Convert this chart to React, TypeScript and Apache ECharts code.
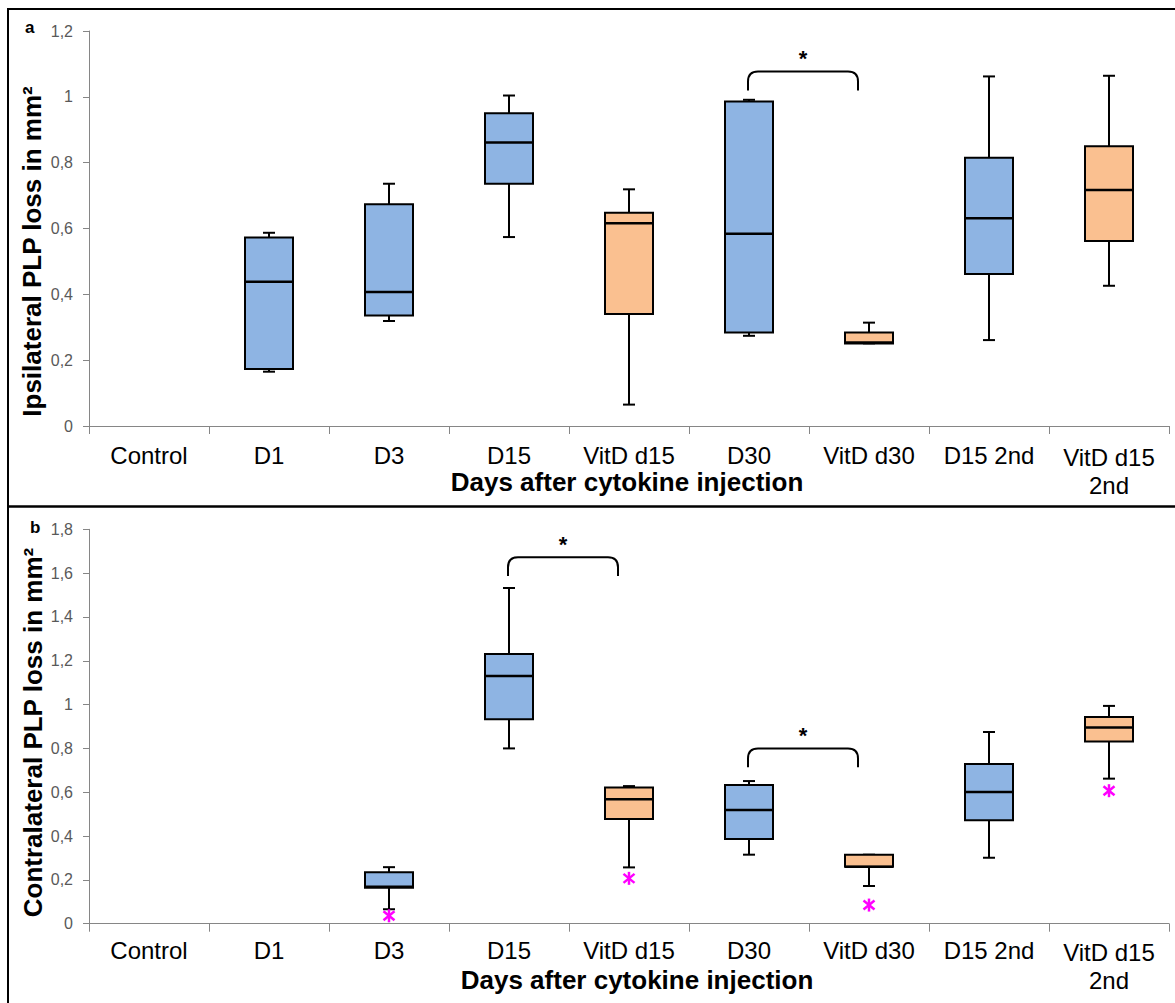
import React, { useEffect, useRef } from "react";
import * as echarts from "echarts";

const categories = ["Control", "D1", "D3", "D15", "VitD d15", "D30", "VitD d30", "D15 2nd", "VitD d15\n2nd"];
const groupType = ["control", "cytokine", "cytokine", "cytokine", "vitd", "cytokine", "vitd", "cytokine", "vitd"];

// Panel a: ipsilateral
const ipsiMin = [null, 0.165, 0.319, 0.574, 0.065, 0.274, 0.251, 0.261, 0.426];
const ipsiQ1 = [null, 0.173, 0.336, 0.736, 0.34, 0.284, 0.251, 0.462, 0.562];
const ipsiMedian = [null, 0.438, 0.407, 0.861, 0.616, 0.584, 0.254, 0.631, 0.717];
const ipsiQ3 = [null, 0.573, 0.674, 0.95, 0.648, 0.986, 0.284, 0.815, 0.85];
const ipsiMax = [null, 0.587, 0.736, 1.004, 0.719, 0.991, 0.314, 1.062, 1.064];
const ipsiOutliers: number[][] = [];
const ipsiBrackets = [[5, 6, 1.077, 1.019]];
const yTicksIpsi = ["0", "0,2", "0,4", "0,6", "0,8", "1", "1,2"];

// Panel b: contralateral
const contraMin = [null, null, 0.066, 0.8, 0.257, 0.315, 0.172, 0.301, 0.662];
const contraQ1 = [null, null, 0.164, 0.933, 0.478, 0.387, 0.26, 0.472, 0.832];
const contraMedian = [null, null, 0.169, 1.13, 0.568, 0.519, 0.26, 0.601, 0.896];
const contraQ3 = [null, null, 0.235, 1.231, 0.622, 0.633, 0.315, 0.729, 0.943];
const contraMax = [null, null, 0.258, 1.532, 0.628, 0.651, 0.315, 0.875, 0.994];
const contraOutliers = [[2, 0.036], [4, 0.207], [6, 0.085], [8, 0.607]];
const contraBrackets = [[3, 4, 1.672, 1.587], [5, 6, 0.8, 0.714]];
const yTicksContra = ["0", "0,2", "0,4", "0,6", "0,8", "1", "1,2", "1,4", "1,6", "1,8"];

const boxColors: Record<string, string> = { cytokine: "#8EB4E3", vitd: "#FAC090", control: "#FFFFFF" };
const FONT = '"Liberation Sans", Arial, sans-serif';

function buildBoxData(mn: any[], q1: any[], md: any[], q3: any[], mx: any[]) {
  const out: number[][] = [];
  for (let i = 0; i < categories.length; i++) {
    if (mn[i] == null) continue;
    out.push([i, mn[i], q1[i], md[i], q3[i], mx[i]]);
  }
  return out;
}

const renderBox = (params: any, api: any) => {
  const i = api.value(0);
  const x = api.coord([i, 0])[0];
  const y = (v: number) => api.coord([i, v])[1];
  const yMin = y(api.value(1));
  const yQ1 = y(api.value(2));
  const yMed = y(api.value(3));
  const yQ3 = y(api.value(4));
  const yMax = y(api.value(5));
  const bw = api.size([1, 0])[0] * 0.4;
  const cap = 12;
  const fill = boxColors[groupType[i]];
  const st = { stroke: "#000", lineWidth: 2 };
  return {
    type: "group",
    children: [
      { type: "line", shape: { x1: x, y1: yMax, x2: x, y2: yQ3 }, style: st },
      { type: "line", shape: { x1: x, y1: yQ1, x2: x, y2: yMin }, style: st },
      { type: "line", shape: { x1: x - cap / 2, y1: yMax, x2: x + cap / 2, y2: yMax }, style: st },
      { type: "line", shape: { x1: x - cap / 2, y1: yMin, x2: x + cap / 2, y2: yMin }, style: st },
      { type: "rect", shape: { x: x - bw / 2, y: yQ3, width: bw, height: yQ1 - yQ3 }, style: { fill, stroke: "#000", lineWidth: 2 } },
      { type: "line", shape: { x1: x - bw / 2, y1: yMed, x2: x + bw / 2, y2: yMed }, style: { stroke: "#000", lineWidth: 2.5 } },
    ],
  };
};

const renderOutlier = (params: any, api: any) => {
  const p = api.coord([api.value(0), api.value(1)]);
  const x = p[0];
  const y = p[1];
  const s = { stroke: "#FF00FF", lineWidth: 2.5 };
  return {
    type: "group",
    children: [
      { type: "line", shape: { x1: x, y1: y - 6.5, x2: x, y2: y + 6.5 }, style: s },
      { type: "line", shape: { x1: x - 5.5, y1: y - 4.5, x2: x + 5.5, y2: y + 4.5 }, style: s },
      { type: "line", shape: { x1: x - 5.5, y1: y + 4.5, x2: x + 5.5, y2: y - 4.5 }, style: s },
    ],
  };
};

const renderBracket = (params: any, api: any) => {
  const x1 = api.coord([api.value(0), 0])[0] - 1;
  const x2 = api.coord([api.value(1), 0])[0] - 11;
  const yt = api.coord([0, api.value(2)])[1];
  const yl = api.coord([0, api.value(3)])[1];
  const r = 10;
  const d = `M${x1} ${yl}L${x1} ${yt + r}Q${x1} ${yt} ${x1 + r} ${yt}L${x2 - r} ${yt}Q${x2} ${yt} ${x2} ${yt + r}L${x2} ${yl}`;
  return {
    type: "group",
    children: [
      { type: "path", shape: { pathData: d }, style: { stroke: "#000", lineWidth: 2, fill: "none" } },
      {
        type: "text",
        style: {
          text: "*",
          x: (x1 + x2) / 2,
          y: yt - 13,
          align: "center",
          verticalAlign: "middle",
          fill: "#000",
          font: `bold 22px ${FONT}`,
        },
      },
    ],
  };
};

function makeXAxis(gridIndex: number, margin: number) {
  return {
    type: "category",
    gridIndex,
    data: categories,
    boundaryGap: true,
    axisLine: { show: true, lineStyle: { color: "#868686", width: 1 } },
    axisTick: { show: true, length: 8, interval: 0, lineStyle: { color: "#868686", width: 1 } },
    axisLabel: {
      interval: 0,
      margin,
      color: "#000",
      fontSize: 24,
      lineHeight: 24,
      fontFamily: FONT,
      formatter: (v: string) =>
        v.indexOf("\n") >= 0 ? v.split("\n").map((s) => `{w|${s}}`).join("\n") : v,
      rich: { w: { fontSize: 24, lineHeight: 28, fontFamily: FONT, color: "#000" } },
    },
    splitLine: { show: false },
  };
}

function makeYAxis(gridIndex: number, max: number, labels: string[]) {
  return {
    type: "value",
    gridIndex,
    min: 0,
    max,
    interval: 0.2,
    axisLine: { show: true, lineStyle: { color: "#868686", width: 1 } },
    axisTick: { show: true, length: 6, lineStyle: { color: "#868686", width: 1 } },
    splitLine: { show: false },
    axisLabel: {
      margin: 16,
      color: "#595959",
      fontSize: 16,
      fontFamily: FONT,
      formatter: (v: number) => labels[Math.round(v / 0.2)] ?? "",
    },
  };
}

export default function App() {
  const ref = useRef<HTMLDivElement>(null);
  useEffect(() => {
    document.body.style.margin = "0";
    if (!ref.current) return;
    const chart = echarts.init(ref.current, null, { renderer: "svg" });
    const titleFont = `bold 26px ${FONT}`;
    chart.setOption({
      animation: false,
      backgroundColor: "#fff",
      grid: [
        { left: 89, top: 31, width: 1080, height: 395 },
        { left: 89, top: 529.3, width: 1080, height: 394.4 },
      ],
      xAxis: [makeXAxis(0, 17), makeXAxis(1, 15)],
      yAxis: [makeYAxis(0, 1.2, yTicksIpsi), makeYAxis(1, 1.8, yTicksContra)],
      series: [
        {
          type: "custom",
          xAxisIndex: 0,
          yAxisIndex: 0,
          renderItem: renderBox,
          encode: { x: 0, y: [1, 2, 3, 4, 5] },
          data: buildBoxData(ipsiMin, ipsiQ1, ipsiMedian, ipsiQ3, ipsiMax),
          clip: false,
        },
        {
          type: "custom",
          xAxisIndex: 0,
          yAxisIndex: 0,
          renderItem: renderOutlier,
          encode: { x: 0, y: 1 },
          data: ipsiOutliers,
          clip: false,
        },
        {
          type: "custom",
          xAxisIndex: 0,
          yAxisIndex: 0,
          renderItem: renderBracket,
          encode: { x: [0, 1], y: [2, 3] },
          data: ipsiBrackets,
          clip: false,
        },
        {
          type: "custom",
          xAxisIndex: 1,
          yAxisIndex: 1,
          renderItem: renderBox,
          encode: { x: 0, y: [1, 2, 3, 4, 5] },
          data: buildBoxData(contraMin, contraQ1, contraMedian, contraQ3, contraMax),
          clip: false,
        },
        {
          type: "custom",
          xAxisIndex: 1,
          yAxisIndex: 1,
          renderItem: renderOutlier,
          encode: { x: 0, y: 1 },
          data: contraOutliers,
          clip: false,
        },
        {
          type: "custom",
          xAxisIndex: 1,
          yAxisIndex: 1,
          renderItem: renderBracket,
          encode: { x: [0, 1], y: [2, 3] },
          data: contraBrackets,
          clip: false,
        },
      ],
      graphic: [
        { type: "rect", shape: { x: 8, y: 9, width: 1200, height: 497.5 }, style: { fill: "none", stroke: "#000", lineWidth: 2 }, silent: true },
        { type: "rect", shape: { x: 8, y: 506.5, width: 1200, height: 520 }, style: { fill: "none", stroke: "#000", lineWidth: 2 }, silent: true },
        { type: "text", x: 25, y: 19, style: { text: "a", font: `bold 17px ${FONT}`, fill: "#000", align: "left", verticalAlign: "top" } },
        { type: "text", x: 30, y: 519, style: { text: "b", font: `bold 17px ${FONT}`, fill: "#000", align: "left", verticalAlign: "top" } },
        { type: "text", x: 627, y: 482, style: { text: "Days after cytokine injection", font: titleFont, lineHeight: 22, fill: "#000", align: "center", verticalAlign: "middle" } },
        { type: "text", x: 637, y: 980, style: { text: "Days after cytokine injection", font: titleFont, lineHeight: 22, fill: "#000", align: "center", verticalAlign: "middle" } },
        { type: "text", x: 32, y: 251.5, rotation: Math.PI / 2, style: { text: "Ipsilateral PLP loss in mm²", font: titleFont, fill: "#000", align: "center", verticalAlign: "middle" } },
        { type: "text", x: 33, y: 732.5, rotation: Math.PI / 2, style: { text: "Contralateral PLP loss in mm²", font: titleFont, fill: "#000", align: "center", verticalAlign: "middle" } },
      ],
    });
    return () => {
      chart.dispose();
    };
  }, []);
  return <div ref={ref} style={{ width: 1175, height: 1003 }} />;
}
